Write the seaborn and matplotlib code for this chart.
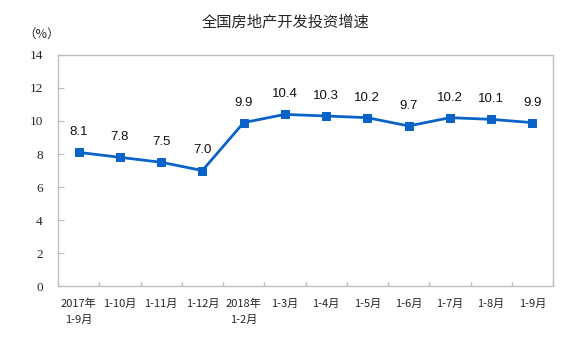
import matplotlib
matplotlib.use("Agg")
import matplotlib.pyplot as plt
import seaborn as sns
import pandas as pd
import numpy as np

categories = ["2017年\n1-9月", "1-10月", "1-11月", "1-12月", "2018年\n1-2月",
              "1-3月", "1-4月", "1-5月", "1-6月", "1-7月", "1-8月", "1-9月"]
values = [8.1, 7.8, 7.5, 7.0, 9.9, 10.4, 10.3, 10.2, 9.7, 10.2, 10.1, 9.9]
yticks = [0, 2, 4, 6, 8, 10, 12, 14]

sns.set_style("white")
plt.rcParams['font.family'] = ['Noto Sans CJK SC', 'DejaVu Sans']

df = pd.DataFrame({"pos": np.arange(len(categories)), "val": values})

fig = plt.figure(figsize=(5.72, 3.37), dpi=100)
ax = fig.add_axes([0.1014, 0.151, 0.8654, 0.686])
color = "#0A64C8"
sns.lineplot(data=df, x="pos", y="val", ax=ax, color=color, linewidth=2,
             marker="s", markersize=5.5, markeredgecolor=color)

for i, v in enumerate(values):
    ax.text(i, v + 0.85, f"{v:.1f}", ha="center", va="bottom", fontsize=9.5,
            family="Liberation Sans", color="#111111")

ax.set_xlim(-0.5, len(categories) - 0.5)
ax.set_ylim(0, 14)
ax.set_yticks(yticks)
ax.set_yticklabels([str(t) for t in yticks], fontsize=9.5, family="Liberation Serif")
ax.set_xticks(np.arange(len(categories)))
ax.set_xticklabels(categories, fontsize=8, linespacing=1.7)
ax.set_xticks(np.arange(len(categories) + 1) - 0.5, minor=True)
ax.tick_params(axis="x", which="major", length=0, pad=9)
ax.tick_params(axis="x", which="minor", length=3, direction="in", color="#BBBBBB", width=1, bottom=True)
ax.tick_params(axis="y", which="major", length=4, direction="in", color="#BBBBBB", left=True, pad=11)
ax.set_xlabel("")
ax.set_ylabel("")
for s in ax.spines.values():
    s.set_color("#C0C0C0")
    s.set_linewidth(1)

fig.text(0.5, 0.935, "全国房地产开发投资增速", ha="center", va="center", fontsize=11)
fig.text(0.072, 0.898, "（%）", ha="center", va="center", fontsize=9)

fig.savefig("out.png", dpi=100)
